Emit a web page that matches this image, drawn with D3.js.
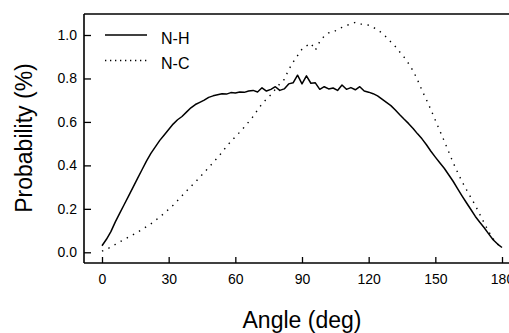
<!DOCTYPE html>
<html>
<head>
<meta charset="utf-8">
<script src="https://cdn.jsdelivr.net/npm/d3@7"></script>
<style>
  body { margin: 0; background: #fff; }
  svg { display: block; font-family: "Liberation Sans", Arial, sans-serif; }
</style>
</head>
<body>
<script>
// Angle grid (deg)
const angles = [
  0, 2, 4, 6, 8, 10, 12, 14, 16, 18, 20, 22, 24, 26, 28, 30, 32, 34, 36, 38,
  40, 42, 44, 46, 48, 50, 52, 54, 56, 58, 60, 62, 64, 66, 68, 70, 72, 74, 76, 78,
  80, 82, 84, 86, 88, 90, 92, 94, 96, 98, 100, 102, 104, 106, 108, 110, 112, 114, 116, 118,
  120, 122, 124, 126, 128, 130, 132, 134, 136, 138, 140, 142, 144, 146, 148, 150, 152, 154, 156, 158,
  160, 162, 164, 166, 168, 170, 172, 174, 176, 178, 180
];

// N-H probability
const nhValues = [
  0.03, 0.06, 0.095, 0.14, 0.18, 0.22, 0.26, 0.30, 0.34, 0.38,
  0.42, 0.455, 0.485, 0.515, 0.54, 0.565, 0.59, 0.61, 0.625, 0.645,
  0.665, 0.68, 0.69, 0.70, 0.713, 0.72, 0.725, 0.73, 0.728, 0.735,
  0.733, 0.738, 0.736, 0.742, 0.745, 0.738, 0.757, 0.742, 0.75, 0.762,
  0.745, 0.752, 0.775, 0.78, 0.815, 0.775, 0.812, 0.778, 0.78, 0.75,
  0.762, 0.752, 0.756, 0.745, 0.77, 0.75, 0.758, 0.748, 0.762, 0.742,
  0.737, 0.73, 0.72, 0.705, 0.69, 0.675, 0.655, 0.633, 0.612, 0.592,
  0.57, 0.545, 0.522, 0.495, 0.465, 0.438, 0.412, 0.387, 0.357, 0.327,
  0.293, 0.26, 0.228, 0.197, 0.165, 0.138, 0.113, 0.085, 0.058, 0.038,
  0.022
];

// N-C probability
const ncValues = [
  0.005, 0.014, 0.024, 0.036, 0.048, 0.059, 0.07, 0.081, 0.093, 0.105,
  0.118, 0.131, 0.147, 0.162, 0.18, 0.198, 0.217, 0.238, 0.26, 0.282,
  0.303, 0.324, 0.345, 0.368, 0.39, 0.413, 0.436, 0.46, 0.487, 0.51,
  0.532, 0.553, 0.576, 0.6, 0.625, 0.655, 0.683, 0.705, 0.725, 0.75,
  0.775, 0.795, 0.84, 0.875, 0.905, 0.935, 0.95, 0.962, 0.93, 0.97,
  0.995, 1.01, 1.013, 1.025, 1.035, 1.043, 1.052, 1.058, 1.05, 1.05,
  1.045, 1.035, 1.025, 1.008, 0.99, 0.968, 0.947, 0.922, 0.897, 0.868,
  0.835, 0.793, 0.745, 0.702, 0.656, 0.608, 0.56, 0.512, 0.463, 0.413,
  0.368, 0.326, 0.288, 0.252, 0.216, 0.175, 0.135, 0.095, 0.062, 0.038,
  0.024
];

const xTicks = [0, 30, 60, 90, 120, 150, 180];
const yTicks = [0.0, 0.2, 0.4, 0.6, 0.8, 1.0];

// Canvas
const width = 509;
const height = 333;

// Frame (pixel edges of the plot box)
const frameLeft = 84;
const frameTop = 14;
const frameBottom = 263;
const frameRight = 509;

const x = d3.scaleLinear().domain([0, 180]).range([102, 502]);
const y = d3.scaleLinear().domain([0, 1]).range([252.3, 35]);

const svg = d3.select('body')
  .append('svg')
    .attr('width', width)
    .attr('height', height);

// Axes
const yAxis = d3.axisLeft(y)
  .tickValues(yTicks)
  .tickFormat(d3.format('.1f'))
  .tickSizeInner(-7)
  .tickSizeOuter(0)
  .tickPadding(7);

const gy = svg.append('g')
    .attr('transform', `translate(${frameLeft},0)`)
    .call(yAxis);
gy.select('.domain').remove();

const xAxis = d3.axisBottom(x)
  .tickValues(xTicks)
  .tickSizeInner(-6)
  .tickSizeOuter(0)
  .tickPadding(11);

const gx = svg.append('g')
    .attr('transform', `translate(0,${frameBottom})`)
    .call(xAxis);
gx.select('.domain').remove();

svg.selectAll('.tick line')
    .attr('stroke', '#000')
    .attr('stroke-width', 1.3);
svg.selectAll('.tick text')
    .attr('fill', '#000')
    .style('font-size', '14px')
    .style('font-family', '"Liberation Sans", Arial, sans-serif');

// Frame lines: left, bottom, top
const frameLines = [
  { x1: frameLeft, y1: frameTop, x2: frameLeft, y2: frameBottom },
  { x1: frameLeft, y1: frameBottom, x2: frameRight, y2: frameBottom },
  { x1: frameLeft, y1: frameTop, x2: frameRight, y2: frameTop },
];
svg.selectAll('line.frame')
    .data(frameLines)
  .enter().append('line')
    .attr('class', 'frame')
    .attr('x1', (d) => d.x1)
    .attr('y1', (d) => d.y1)
    .attr('x2', (d) => d.x2)
    .attr('y2', (d) => d.y2)
    .attr('stroke', '#000')
    .attr('stroke-width', 1.6);

// Curves
const line = d3.line()
  .x((d) => x(d[0]))
  .y((d) => y(d[1]));

svg.append('path')
    .datum(angles.map((a, i) => [a, ncValues[i]]))
    .attr('fill', 'none')
    .attr('stroke', '#000')
    .attr('stroke-width', 1.4)
    .attr('stroke-dasharray', '1.4,5.6')
    .attr('d', line);

svg.append('path')
    .datum(angles.map((a, i) => [a, nhValues[i]]))
    .attr('fill', 'none')
    .attr('stroke', '#000')
    .attr('stroke-width', 1.5)
    .attr('stroke-linejoin', 'round')
    .attr('d', line);

// Legend
const legend = [
  { label: 'N-H', dash: null, y: 35 },
  { label: 'N-C', dash: '1.3,3.7', y: 60.5 },
];
const lg = svg.selectAll('g.legend')
    .data(legend)
  .enter().append('g')
    .attr('class', 'legend');
lg.append('line')
    .attr('x1', 105)
    .attr('x2', 147)
    .attr('y1', (d) => d.y)
    .attr('y2', (d) => d.y)
    .attr('stroke', '#000')
    .attr('stroke-width', (d) => d.dash ? 1.4 : 1.5)
    .attr('stroke-dasharray', (d) => d.dash);
lg.append('text')
    .attr('x', 161)
    .attr('y', (d) => d.y + 8.5)
    .style('font-size', '16px')
    .text((d) => d.label);

// Axis titles
svg.append('text')
    .attr('x', (x(0) + x(180)) / 2)
    .attr('y', 328)
    .attr('text-anchor', 'middle')
    .style('font-size', '23px')
    .text('Angle (deg)');

svg.append('text')
    .attr('transform', 'translate(32,138) rotate(-90)')
    .attr('text-anchor', 'middle')
    .style('font-size', '23px')
    .text('Probability (%)');
</script>
</body>
</html>
